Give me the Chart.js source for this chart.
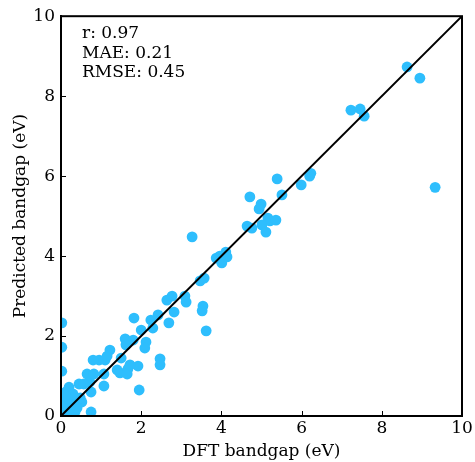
<!DOCTYPE html>
<html><head><meta charset="utf-8">
<script src="https://cdn.jsdelivr.net/npm/chart.js@4"></script>
<style>html,body{margin:0;padding:0;background:#fff}#wrap{width:475px;height:462px}</style>
</head><body><div id="wrap"><canvas id="c" width="475" height="462"></canvas></div>
<script>
const dftX = [8.63,8.95,9.33,7.23,7.46,7.56,6.23,6.2,5.99,5.39,5.51,4.71,4.99,4.94,5.16,5.21,5.36,5.01,5.11,4.64,4.76,
  3.27,4.11,3.96,3.87,4.01,4.14,3.57,3.47,3.54,3.52,3.62,3.09,3.12,2.77,2.64,2.82,2.69,2.42,2.24,2.29,
  1.82,2.0,2.12,2.09,1.6,1.8,1.62,1.92,1.95,2.47,2.47,1.22,1.5,1.4,1.47,1.67,1.65,1.72,
  0.95,0.8,1.1,1.15,1.07,0.65,0.72,0.82,1.07,0.75,0.45,0.57,0.75,0.52,0.2,0.02,0.02,0.02,
  0.05,0.1,0.15,0.22,0.28,0.35,0.05,0.12,0.22,0.35,0.42,0.08,0.18,0.28,0.02,0.48,0.3,0.15,0.4,0.1];
const predY = [8.73,8.45,5.72,7.65,7.68,7.5,6.07,6.0,5.78,5.93,5.53,5.48,5.3,5.18,4.95,4.88,4.9,4.78,4.6,4.75,4.7,
  4.48,4.1,4.0,3.95,3.83,3.98,3.45,3.38,2.75,2.63,2.13,3.0,2.85,3.0,2.9,2.6,2.33,2.53,2.4,2.2,
  2.45,2.15,1.85,1.7,1.93,1.9,1.78,1.25,0.65,1.43,1.28,1.65,1.45,1.15,1.08,1.18,1.05,1.28,
  1.4,1.4,1.4,1.5,1.05,1.05,0.85,1.05,0.75,0.1,0.8,0.8,0.6,0.35,0.72,2.33,1.72,1.12,
  0.05,0.15,0.28,0.4,0.45,0.3,0.55,0.6,0.22,0.1,0.4,0.35,0.08,0.2,0.25,0.45,0.55,0.45,0.2,0.5];
const lineX = [0,10];
const lineY = [0,10];
const tickValues = [0,2,4,6,8,10];
const statLabels = ["r: 0.97","MAE: 0.21","RMSE: 0.45"];
const xTitle = "DFT bandgap (eV)";
const yTitle = "Predicted bandgap (eV)";

const font = "'DejaVu Serif', serif";
const pts = dftX.map((x,i)=>({x:x,y:predY[i]}));
const linePts = lineX.map((x,i)=>({x:x,y:lineY[i]}));

const boxPlugin = {
  id:'box',
  afterDatasetsDraw(chart){
    const a = chart.chartArea, ctx = chart.ctx;
    const xs = chart.scales.x, ys = chart.scales.y;
    ctx.save();
    ctx.strokeStyle='#000'; ctx.lineWidth=1;
    tickValues.forEach(v=>{
      const px = Math.round(xs.getPixelForValue(v))+0.5;
      ctx.beginPath(); ctx.moveTo(px,a.bottom); ctx.lineTo(px,a.bottom-5); ctx.stroke();
      const py = Math.round(ys.getPixelForValue(v))+0.5;
      ctx.beginPath(); ctx.moveTo(a.left,py); ctx.lineTo(a.left+5,py); ctx.stroke();
    });
    ctx.lineWidth=2;
    ctx.strokeRect(a.left,a.top,a.right-a.left,a.bottom-a.top);
    ctx.fillStyle='#000';
    ctx.font = "17px " + font;
    ctx.textAlign='left'; ctx.textBaseline='alphabetic';
    statLabels.forEach((s,i)=>ctx.fillText(s, a.left+21, a.top+22+i*19.5));
    ctx.restore();
  }
};

new Chart(document.getElementById('c'), {
  type:'scatter',
  data:{datasets:[
    {type:'line', data:linePts, borderColor:'#000', borderWidth:2, pointRadius:0, showLine:true, order:0},
    {data:pts, backgroundColor:'#2EBEFD', borderColor:'#2EBEFD', borderWidth:0, pointRadius:5.4, pointHoverRadius:5.4, order:1}
  ]},
  options:{
    responsive:false, animation:false, devicePixelRatio:1,
    layout:{padding:{top:16,right:13,left:0,bottom:0}},
    plugins:{legend:{display:false}, tooltip:{enabled:false}},
    scales:{
      x:{type:'linear', min:0, max:10,
        afterBuildTicks(s){ s.ticks = tickValues.map(v=>({value:v})); },
        afterFit(s){ s.height = 46; },
        grid:{display:false, drawOnChartArea:false, drawTicks:false},
        border:{display:true, color:'#000', width:2},
        ticks:{color:'#000', font:{family:font, size:17}, padding:2, maxRotation:0},
        title:{display:true, text:xTitle, color:'#000', font:{family:font, size:17}, padding:{top:0,bottom:0}}
      },
      y:{type:'linear', min:0, max:10,
        afterBuildTicks(s){ s.ticks = tickValues.map(v=>({value:v})); },
        afterFit(s){ s.width = 61; },
        grid:{display:false, drawOnChartArea:false, drawTicks:false},
        border:{display:true, color:'#000', width:2},
        ticks:{color:'#000', font:{family:font, size:17}, padding:6},
        title:{display:true, text:yTitle, color:'#000', font:{family:font, size:17}, padding:{top:10,bottom:0}}
      }
    }
  },
  plugins:[boxPlugin]
});
</script></body></html>
